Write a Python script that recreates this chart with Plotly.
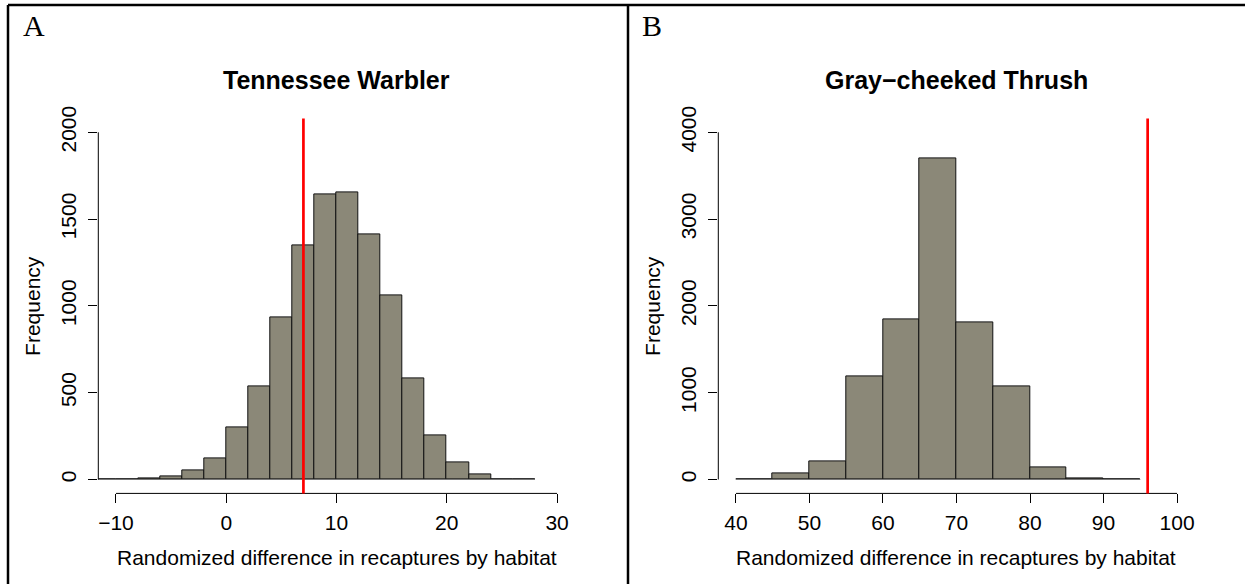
import plotly.graph_objects as go

# ---------------- data ----------------
a_bin_start = -12
a_bin_width = 2
a_counts = [0, 0, 7, 17, 52, 119, 298, 534, 935, 1350, 1644, 1654, 1412, 1059, 580, 255, 98, 29, 0, 0]
a_observed = 7
a_title = "Tennessee Warbler"
a_xticks = [-10, 0, 10, 20, 30]
a_yticks = [0, 500, 1000, 1500, 2000]

b_bin_start = 40
b_bin_width = 5
b_counts = [0, 69, 207, 1187, 1848, 3697, 1810, 1076, 135, 12, 0]
b_observed = 96
b_title = "Gray\u2212cheeked Thrush"
b_xticks = [40, 50, 60, 70, 80, 90, 100]
b_yticks = [0, 1000, 2000, 3000, 4000]

x_label = "Randomized difference in recaptures by habitat"
y_label = "Frequency"
panel_labels = ["A", "B"]

# ---------------- styling ----------------
W, H = 1245, 584
FONT = "Liberation Sans, Arial, sans-serif"
BAR_FILL = "#8B8878"
TXT = "black"


def py(px):  # pixel y from top -> paper
    return 1 - px / H


def px_(x):
    return x / W


plot_top, plot_bot = 118.4, 493.4
domA = [px_(98.3), px_(574.7)]
domB = [px_(718.3), px_(1194.7)]
ydom = [py(plot_bot), py(plot_top)]


def rng(lo, hi):
    d = (hi - lo) * 0.04
    return [lo - d, hi + d]


fig = go.Figure()

panels = [
    (a_bin_start, a_bin_width, a_counts, a_observed, a_title, a_xticks, a_yticks, "x", "y", domA),
    (b_bin_start, b_bin_width, b_counts, b_observed, b_title, b_xticks, b_yticks, "x2", "y2", domB),
]

shapes = []
annotations = []

for i, (start, width, counts, obs, title, xt, yt, xa, ya, dom) in enumerate(panels):
    edges = [start + width * k for k in range(len(counts) + 1)]
    centers = [start + width * (k + 0.5) for k in range(len(counts))]
    # baseline (zero-count bins appear as a line)
    fig.add_trace(go.Scatter(x=[edges[0], edges[-1]], y=[0, 0], mode="lines",
                             line=dict(color="#777777", width=1),
                             xaxis=xa, yaxis=ya, showlegend=False, hoverinfo="skip"))
    fig.add_trace(go.Bar(x=centers, y=counts, width=[width] * len(counts),
                         marker=dict(color=BAR_FILL, line=dict(color="#111111", width=1)),
                         xaxis=xa, yaxis=ya, showlegend=False))
    xref = xa
    yref = ya
    # R-style axis lines spanning first..last tick
    shapes.append(dict(type="line", xref=xref, yref=yref + " domain", x0=xt[0], x1=xt[-1], y0=0, y1=0,
                       line=dict(color="black", width=1)))
    shapes.append(dict(type="line", xref=xref + " domain", yref=yref, x0=0, x1=0, y0=yt[0], y1=yt[-1],
                       line=dict(color="black", width=1)))
    # observed value line
    shapes.append(dict(type="line", xref=xref, yref=yref + " domain", x0=obs, x1=obs, y0=0, y1=1,
                       line=dict(color="#FF0000", width=2.7), layer="above"))
    # title
    annotations.append(dict(text="<b>%s</b>" % title, xref=xref + " domain", yref="paper",
                            x=0.5, y=py(80), xanchor="center", yanchor="middle", showarrow=False,
                            font=dict(family=FONT, size=25, color=TXT)))
    # x label
    annotations.append(dict(text=x_label, xref=xref + " domain", yref="paper",
                            x=0.5, y=py(557), xanchor="center", yanchor="middle", showarrow=False,
                            font=dict(family=FONT, size=21, color=TXT)))
    # y label
    annotations.append(dict(text=y_label, xref="paper", yref=yref + " domain",
                            x=px_(33 + 620 * i), y=0.5, xanchor="center", yanchor="middle",
                            textangle=-90, showarrow=False,
                            font=dict(family=FONT, size=21, color=TXT)))
    # panel letter
    annotations.append(dict(text=panel_labels[i], xref="paper", yref="paper",
                            x=px_(34 + 618 * i), y=py(25), xanchor="center", yanchor="middle",
                            showarrow=False,
                            font=dict(family="Liberation Serif, Times New Roman, serif", size=30, color=TXT)))

# panel frames
frame = dict(color="black", width=2.5)
shapes.append(dict(type="line", xref="paper", yref="paper", x0=px_(8), x1=1, y0=py(5), y1=py(5), line=frame))
shapes.append(dict(type="line", xref="paper", yref="paper", x0=px_(8), x1=px_(8), y0=0, y1=py(5), line=frame))
shapes.append(dict(type="line", xref="paper", yref="paper", x0=px_(628), x1=px_(628), y0=0, y1=py(5), line=frame))


def xaxis(dom, xt, edges_range, anchor):
    return dict(domain=dom, range=edges_range, anchor=anchor, tickvals=xt, ticks="outside", ticklen=9,
                tickwidth=1, tickcolor="black", showline=False, showgrid=False, zeroline=False,
                automargin=False,
                tickfont=dict(family=FONT, size=21, color=TXT), ticklabelstandoff=1)


def yaxis(yt, r, anchor):
    return dict(domain=ydom, range=r, anchor=anchor, tickvals=yt, ticks="outside", ticklen=9,
                tickwidth=1, tickcolor="black", showline=False, showgrid=False, zeroline=False,
                automargin=False,
                tickangle=-90, tickfont=dict(family=FONT, size=21, color=TXT), ticklabelstandoff=4)


fig.update_layout(
    width=W, height=H, autosize=False,
    margin=dict(l=0, r=0, t=0, b=0, pad=0, autoexpand=False),
    paper_bgcolor="white", plot_bgcolor="white",
    showlegend=False,
    bargap=0, barmode="overlay",
    xaxis=xaxis(domA, a_xticks, rng(-10, 30), "y"),
    yaxis=yaxis(a_yticks, rng(0, 2000), "x"),
    xaxis2=xaxis(domB, b_xticks, rng(40, 100), "y2"),
    yaxis2=yaxis(b_yticks, rng(0, 4000), "x2"),
    shapes=shapes,
    annotations=annotations,
)

fig.write_html("out.html", config={"displayModeBar": False},
               post_script="document.body.style.margin='0';document.body.style.overflow='hidden';")
